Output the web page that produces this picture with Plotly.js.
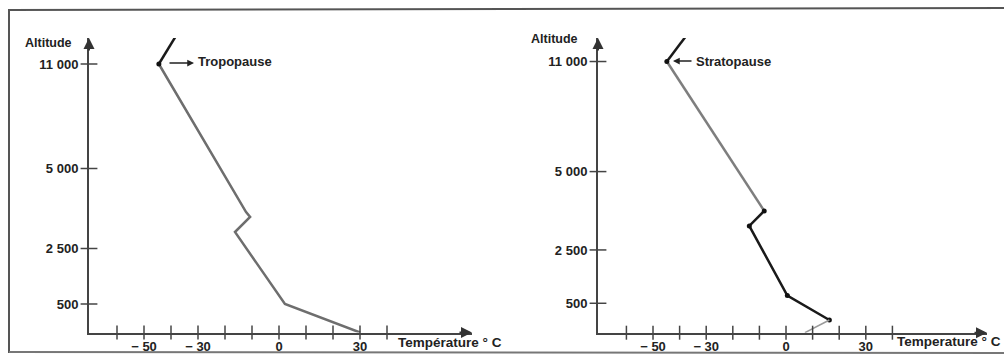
<!DOCTYPE html>
<html>
<head>
<meta charset="utf-8">
<script src="https://cdn.plot.ly/plotly-3.0.1.min.js"></script>
<style>html,body{margin:0;padding:0;background:#fff;}#chart{width:1004px;height:355px;}</style>
</head>
<body>
<div id="chart"></div>
<script>
// ---- data ----
const tempTicks = [-60, -50, -40, -30, -20, -10, 0, 10, 20, 30, 40];
const tempTickText = ['', '− 50', '', '− 30', '', '', '0', '', '', '30', ''];
const altTicks = [500, 2500, 5000, 11000];
const altTickText = ['500', '2 500', '5 000', '11 000'];
// schematic (non-linear) altitude axis: position of each altitude tick on each panel
const leftAltPos = [28.5, 84, 164, 268.5];
const rightAltPos = [29.4, 82.7, 161, 271];

// left panel: troposphere profile
const tropoTemp = [-44.5, -12.2, -10.7, -16.3, 2.2, 30];
const tropoAlt = [11000, 3640, 3484, 3016, 500, 0];
const tropoUpperTemp = [-44.5, -34.8];
const tropoUpperAlt = [11000, 13470];

// right panel: profile with inversion
const stratoGreyTemp = [-44.8, -8.2];
const stratoGreyAlt = [11000, 3745];
const stratoBlackTemp = [-8.2, -13.8, 0.5, 16.3];
const stratoBlackAlt = [3745, 3266, 790, 216];
const stratoGroundTemp = [16.3, 7.1];
const stratoGroundAlt = [216, 0];
const stratoUpperTemp = [-44.8, -32.7];
const stratoUpperAlt = [11000, 13330];

// ---- helpers ----
function mapAlt(v, pos) {
  const t = [0].concat(altTicks), p = [0].concat(pos);
  let i = 1;
  while (i < t.length - 1 && v > t[i]) i++;
  return p[i - 1] + (v - t[i - 1]) * (p[i] - p[i - 1]) / (t[i] - t[i - 1]);
}
const W = 1004, H = 355;
const px = x => x / W, py = y => 1 - y / H;
const ink = '#222';
const fnt = {family: 'Liberation Sans, Arial, sans-serif', size: 13, color: ink, weight: 'bold'};

function line(x, y, pos, ax, color, width, mode) {
  return {x: x, y: y.map(v => mapAlt(v, pos)), xaxis: ax[0], yaxis: ax[1], type: 'scatter',
    mode: mode || 'lines', line: {color: color, width: width}, hoverinfo: 'skip', cliponaxis: false,
    marker: {color: '#111', size: 5}};
}
function tickMarks(ax, xmin, ty) {
  return [
    {x: tempTicks, y: tempTicks.map(() => 0), xaxis: ax[0], yaxis: ax[1], type: 'scatter', mode: 'markers',
     marker: {symbol: 'line-ns', size: 10, line: {color: '#444', width: 1.5}}, hoverinfo: 'skip', cliponaxis: false},
    {x: altTicks.map(() => xmin), y: ty, xaxis: ax[0], yaxis: ax[1], type: 'scatter', mode: 'markers',
     marker: {symbol: 'line-ew', size: 12, line: {color: '#444', width: 1.5}}, hoverinfo: 'skip', cliponaxis: false}
  ];
}

const L = ['x', 'y'], R = ['x2', 'y2'];
const lxr = [-70.37, 71.48], rxr = [-70.68, 75.56];

const leftTicksY = altTicks.map(v => mapAlt(v, leftAltPos));
const rightTicksY = altTicks.map(v => mapAlt(v, rightAltPos));

const tmL = tickMarks(L, lxr[0], leftTicksY);
const tmR = tickMarks(R, rxr[0], rightTicksY);

const traces = [
  line(tropoTemp, tropoAlt, leftAltPos, L, '#6e6e6e', 2.5),
  line(tropoUpperTemp, tropoUpperAlt, leftAltPos, L, '#1a1a1a', 2.5),
  line([tropoTemp[0]], [tropoAlt[0]], leftAltPos, L, '#111', 1, 'markers'),
  line(stratoGreyTemp, stratoGreyAlt, rightAltPos, R, '#7e7e7e', 2.5),
  line(stratoBlackTemp, stratoBlackAlt, rightAltPos, R, '#1a1a1a', 2.5, 'lines+markers'),
  line(stratoGroundTemp, stratoGroundAlt, rightAltPos, R, '#9a9a9a', 1.5),
  line(stratoUpperTemp, stratoUpperAlt, rightAltPos, R, '#1a1a1a', 2.5),
  line([stratoGreyTemp[0]], [stratoGreyAlt[0]], rightAltPos, R, '#111', 1, 'markers'),
  tmL[0], tmL[1], tmR[0], tmR[1]
];

function xaxis(dom, rng) {
  return {domain: dom, range: rng, showgrid: false, zeroline: false, showline: true, linecolor: '#444', linewidth: 2,
    tickmode: 'array', tickvals: tempTicks, ticktext: tempTickText, ticks: '', ticklabelstandoff: 1,
    tickfont: fnt, fixedrange: true};
}
function yaxis(dom, tv, anchor) {
  return {domain: dom, range: [0, 294.5], showgrid: false, zeroline: false, showline: true, linecolor: '#444', linewidth: 2,
    tickmode: 'array', tickvals: tv, ticktext: altTickText, ticks: '', ticklabelstandoff: 6,
    tickfont: fnt, anchor: anchor, fixedrange: true};
}

const ann = [];
function txt(t, x, y, xanchor, size) {
  ann.push({text: t, xref: 'paper', yref: 'paper', x: px(x), y: py(y), xanchor: xanchor || 'left', yanchor: 'middle',
    showarrow: false, font: Object.assign({}, fnt, {size: size || 13})});
}
function arrow(x, y, axp, ayp) {
  ann.push({text: '', xref: 'paper', yref: 'paper', x: px(x), y: py(y), ax: axp, ay: ayp, showarrow: true,
    arrowhead: 2, arrowsize: 1.1, arrowwidth: 2, arrowcolor: '#333'});
}
txt('Altitude', 23, 43, 'left', 12.5);
txt('Altitude', 529, 39, 'left', 12.5);
txt('Température ° C', 396, 342, 'left', 13.5);
txt('Temperature ° C', 895, 341, 'left', 13.5);
txt('Tropopause', 196, 62, 'left', 13);
txt('Stratopause', 694, 61, 'left', 13);
// axis arrowheads
arrow(89, 38, 0, 14);
arrow(472, 332.5, -14, 0);
arrow(598, 38, 0, 14);
arrow(987, 332.7, -14, 0);
// label pointers
ann.push({text: '', xref: 'paper', yref: 'paper', x: px(194), y: py(63), ax: -26, ay: 0, showarrow: true,
  arrowhead: 2, arrowsize: 0.9, arrowwidth: 1.5, arrowcolor: '#222'});
ann.push({text: '', xref: 'paper', yref: 'paper', x: px(673), y: py(61), ax: 20, ay: 0, showarrow: true,
  arrowhead: 2, arrowsize: 0.9, arrowwidth: 1.5, arrowcolor: '#222'});

const layout = {
  width: W, height: H, margin: {l: 0, r: 0, t: 0, b: 0}, paper_bgcolor: '#fff', plot_bgcolor: 'rgba(0,0,0,0)',
  showlegend: false,
  xaxis: Object.assign(xaxis([px(89), px(472)], lxr), {anchor: 'y'}),
  yaxis: yaxis([py(332.5), py(38)], leftTicksY, 'x'),
  xaxis2: Object.assign(xaxis([px(598), px(987)], rxr), {anchor: 'y2'}),
  yaxis2: yaxis([py(332.7), py(38)], rightTicksY, 'x2'),
  annotations: ann,
  shapes: [
    {type: 'path', xref: 'paper', yref: 'paper',
     path: 'M ' + px(9) + ' ' + py(353) + ' L ' + px(9) + ' ' + py(10) + ' L ' + px(1010) + ' ' + py(8),
     line: {color: '#555', width: 2}},
    {type: 'line', xref: 'paper', yref: 'paper', x0: px(9), x1: px(1010), y0: py(352), y1: py(353),
     line: {color: '#777', width: 2}}
  ]
};
Plotly.newPlot('chart', traces, layout, {staticPlot: true, displayModeBar: false});
</script>
</body>
</html>
